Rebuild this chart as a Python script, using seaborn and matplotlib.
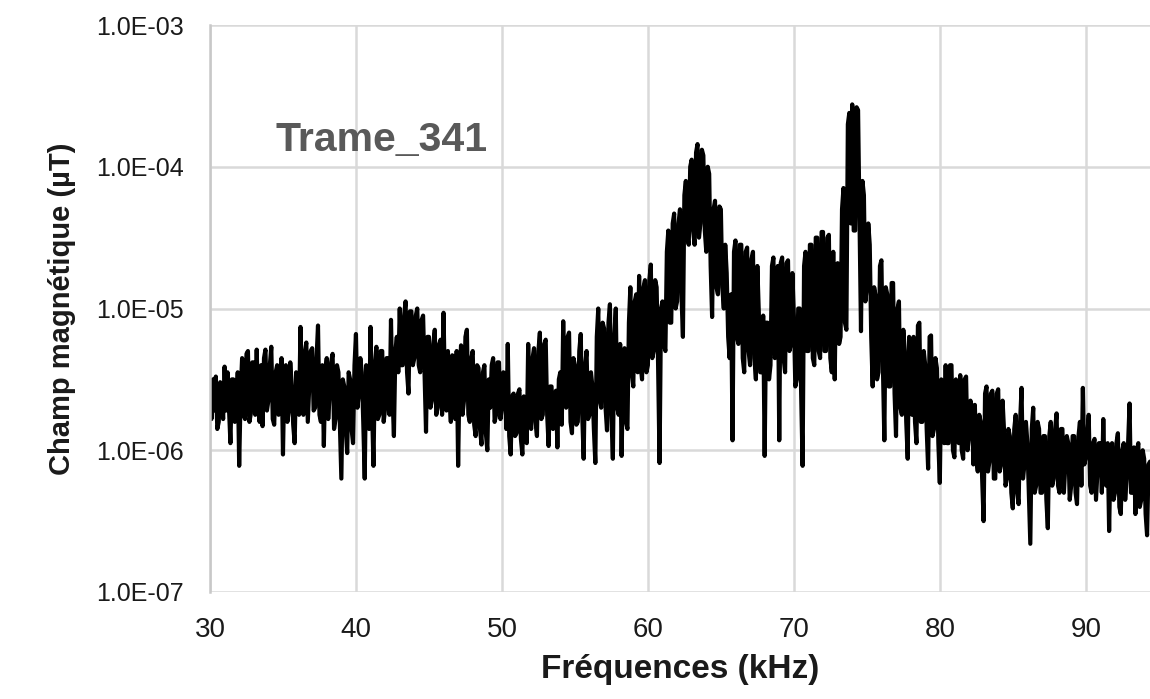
import numpy as np
import pandas as pd
import matplotlib
matplotlib.use("Agg")
import matplotlib.pyplot as plt
import matplotlib.ticker as mticker
import seaborn as sns

# --- Data (frequency step 0.1 kHz, values as log10 of field in uT) ---
FREQ_START = 30.0
FREQ_STEP = 0.1

log_field = [
    -5.55, -5.78, -5.50, -5.72, -5.48, -5.85, -5.80, -5.52, -5.60, -5.78,   # 30
    -5.41, -5.72, -5.45, -5.70, -5.95, -5.50, -5.50, -5.80, -5.75, -5.45,   # 31
    -6.11, -5.60, -5.35, -5.75, -5.78, -5.32, -5.30, -5.80, -5.74, -5.38,   # 32
    -5.38, -5.75, -5.29, -5.70, -5.80, -5.40, -5.83, -5.35, -5.29, -5.72,   # 33
    -5.65, -5.40, -5.27, -5.78, -5.82, -5.45, -5.40, -5.75, -5.62, -5.35,   # 34
    -6.03, -5.45, -5.40, -5.80, -5.72, -5.38, -5.55, -5.82, -5.95, -5.45,   # 35
    -5.50, -5.75, -5.13, -5.70, -5.75, -5.30, -5.24, -5.80, -5.55, -5.30,   # 36
    -5.28, -5.72, -5.70, -5.35, -5.12, -5.75, -5.80, -5.40, -5.97, -5.45,   # 37
    -5.35, -5.78, -5.60, -5.38, -5.32, -5.85, -5.78, -5.40, -5.45, -5.82,   # 38
    -6.20, -5.50, -5.55, -5.85, -6.02, -5.45, -5.50, -5.85, -5.95, -5.40,   # 39
    -5.18, -5.70, -5.60, -5.35, -5.45, -5.80, -6.20, -5.40, -5.50, -5.85,   # 40
    -5.13, -5.70, -6.11, -5.40, -5.27, -5.78, -5.75, -5.30, -5.30, -5.80,   # 41
    -5.70, -5.35, -5.35, -5.75, -5.08, -5.60, -5.90, -5.30, -5.20, -5.45,   # 42
    -5.00, -5.40, -5.40, -5.05, -4.95, -5.45, -5.60, -5.02, -5.02, -5.40,   # 43
    -5.35, -5.05, -5.00, -5.40, -5.45, -5.08, -5.05, -5.45, -5.87, -5.20,   # 44
    -5.20, -5.70, -5.65, -5.25, -5.15, -5.75, -5.70, -5.25, -5.22, -5.75,   # 45
    -5.03, -5.60, -5.72, -5.30, -5.62, -5.80, -5.33, -5.70, -5.78, -5.30,   # 46
    -6.11, -5.45, -5.26, -5.75, -5.65, -5.20, -5.15, -5.75, -5.80, -5.35,   # 47
    -5.30, -5.82, -5.90, -5.40, -5.42, -5.85, -5.96, -5.45, -5.40, -5.88,   # 48
    -6.00, -5.50, -5.70, -5.40, -5.35, -5.80, -5.75, -5.38, -5.38, -5.78,   # 49
    -5.70, -5.45, -5.50, -5.85, -5.25, -5.90, -6.03, -5.62, -5.60, -5.90,   # 50
    -5.88, -5.60, -5.57, -5.92, -6.03, -5.62, -5.63, -5.95, -5.25, -5.70,   # 51
    -5.85, -5.35, -5.28, -5.80, -5.90, -5.30, -5.17, -5.78, -5.75, -5.25,   # 52
    -5.22, -5.75, -5.97, -5.55, -5.55, -5.85, -5.80, -5.58, -5.98, -5.50,   # 53
    -5.45, -5.82, -5.09, -5.65, -5.70, -5.20, -5.17, -5.80, -5.88, -5.35,   # 54
    -5.40, -5.82, -5.80, -5.30, -5.18, -5.75, -6.06, -5.40, -5.30, -5.78,   # 55
    -5.75, -5.45, -5.55, -5.85, -6.09, -5.20, -5.00, -5.65, -5.70, -5.10,   # 56
    -5.14, -5.70, -5.86, -5.10, -4.97, -5.75, -6.06, -5.20, -5.00, -5.70,   # 57
    -5.75, -5.25, -6.04, -5.45, -5.28, -5.80, -5.85, -5.10, -4.85, -5.45,   # 58
    -5.55, -4.95, -4.90, -5.45, -4.77, -5.40, -5.50, -4.85, -4.80, -5.45,   # 59
    -5.40, -4.80, -4.69, -5.35, -5.30, -4.80, -4.85, -5.40, -6.09, -5.00,   # 60
    -4.95, -5.25, -5.30, -4.60, -4.45, -5.10, -5.10, -4.40, -4.33, -5.00,   # 61
    -4.95, -4.40, -4.30, -4.90, -5.20, -4.20, -4.10, -4.50, -4.55, -4.00,   # 62
    -3.95, -4.45, -4.55, -3.90, -3.84, -4.50, -4.40, -3.88, -3.92, -4.45,   # 63
    -4.60, -4.00, -4.05, -4.70, -5.06, -4.30, -4.24, -4.85, -4.90, -4.28,   # 64
    -4.30, -4.85, -5.00, -4.55, -4.75, -5.20, -5.35, -4.90, -5.93, -4.60,   # 65
    -4.52, -5.20, -5.25, -4.55, -4.55, -5.35, -5.45, -4.60, -4.57, -5.30,   # 66
    -5.40, -4.65, -4.60, -5.35, -5.50, -4.70, -5.03, -5.45, -5.45, -5.05,   # 67
    -6.04, -5.10, -5.10, -5.50, -5.40, -4.70, -4.64, -5.35, -5.30, -4.70,   # 68
    -5.93, -4.68, -4.64, -5.35, -5.45, -4.68, -4.66, -5.30, -5.25, -4.75,   # 69
    -5.05, -5.55, -5.50, -5.00, -5.00, -5.60, -6.11, -4.70, -4.60, -5.30,   # 70
    -5.30, -4.55, -4.55, -5.35, -5.40, -4.50, -4.50, -5.30, -5.35, -4.46,   # 71
    -4.46, -5.30, -5.30, -4.50, -4.48, -5.35, -5.45, -4.60, -5.50, -4.70,   # 72
    -4.68, -5.25, -5.20, -4.30, -4.15, -5.10, -5.15, -3.70, -3.62, -4.40,   # 73
    -3.56, -4.45, -4.45, -3.58, -3.60, -4.40, -5.16, -4.10, -4.20, -4.95,   # 74
    -4.85, -4.40, -4.55, -5.20, -5.55, -4.85, -4.91, -5.50, -5.45, -4.70,   # 75
    -4.66, -5.40, -5.93, -4.85, -4.90, -5.55, -5.55, -4.82, -4.82, -5.60,   # 76
    -5.90, -5.00, -4.95, -5.70, -5.75, -5.15, -5.30, -5.80, -6.06, -5.20,   # 77
    -5.45, -5.75, -5.20, -5.80, -5.95, -5.12, -5.10, -5.80, -5.80, -5.30,   # 78
    -5.40, -5.85, -6.13, -5.20, -5.19, -5.90, -5.85, -5.35, -5.42, -5.95,   # 79
    -6.23, -5.50, -5.60, -5.95, -5.40, -5.95, -5.95, -5.40, -5.40, -6.00,   # 80
    -6.05, -5.50, -5.70, -5.95, -5.47, -6.00, -6.06, -5.50, -5.48, -6.00,   # 81
    -5.90, -5.65, -5.70, -6.10, -5.68, -6.05, -6.15, -5.75, -5.80, -6.20,   # 82
    -6.50, -5.60, -5.55, -6.15, -6.08, -5.60, -5.58, -6.20, -6.20, -5.60,   # 83
    -5.57, -6.15, -6.10, -5.65, -5.86, -6.25, -6.20, -5.85, -5.90, -6.30,   # 84
    -6.41, -5.85, -5.75, -6.30, -6.38, -5.80, -5.56, -6.20, -6.10, -5.80,   # 85
    -5.95, -6.30, -6.66, -5.85, -5.70, -6.30, -6.25, -5.80, -5.85, -6.30,   # 86
    -6.30, -5.90, -5.90, -6.35, -6.55, -5.90, -5.80, -6.25, -6.20, -5.85,   # 87
    -5.74, -6.25, -6.30, -5.85, -5.85, -6.30, -6.10, -5.90, -5.95, -6.35,   # 88
    -6.25, -5.90, -5.90, -6.30, -6.38, -5.90, -5.80, -6.25, -5.56, -6.10,   # 89
    -6.05, -5.90, -5.75, -6.25, -6.30, -5.95, -5.92, -6.35, -6.15, -5.95,   # 90
    -5.95, -6.30, -5.78, -6.20, -6.25, -5.95, -6.57, -6.00, -5.95, -6.35,   # 91
    -6.30, -5.95, -5.88, -6.40, -6.45, -6.00, -5.95, -6.35, -6.20, -5.95,   # 92
    -5.67, -6.30, -6.30, -5.98, -6.45, -6.00, -5.95, -6.40, -6.35, -6.00,   # 93
    -6.06, -6.45, -6.60, -6.10, -6.08,                                      # 94
]

x_ticks = [30, 40, 50, 60, 70, 80, 90]
y_ticks = [1e-7, 1e-6, 1e-5, 1e-4, 1e-3]
title_text = "Trame_341"

freqs = FREQ_START + FREQ_STEP * np.arange(len(log_field))
df = pd.DataFrame({"freq": freqs, "field": 10.0 ** np.array(log_field)})

sns.set_theme(style="whitegrid")
plt.rcParams["font.family"] = ["Liberation Sans", "DejaVu Sans"]

fig = plt.figure(figsize=(11.5, 6.99), dpi=100)
ax = fig.add_axes([0.1826, 0.1531, 0.8174, 0.8111])

sns.lineplot(data=df, x="freq", y="field", ax=ax, color="black",
             linewidth=3.0, estimator=None, sort=False)

ax.set_yscale("log")
ax.set_xlim(30, 94.4)
ax.set_ylim(1e-7, 1e-3)
ax.set_xticks(x_ticks)
ax.set_yticks(y_ticks)
ax.yaxis.set_minor_locator(mticker.NullLocator())
ax.yaxis.set_major_formatter(mticker.FuncFormatter(lambda v, p: f"{v:.1E}"))

ax.grid(True, color="#d9d9d9", linewidth=1.8)
for side in ["top", "right", "bottom"]:
    ax.spines[side].set_visible(False)
ax.spines["left"].set_color("#c8c8c8")
ax.spines["left"].set_linewidth(1.8)

ax.tick_params(axis="x", length=0, pad=18, labelsize=20, labelcolor="#1a1a1a")
ax.tick_params(axis="y", length=0, pad=19, labelsize=18, labelcolor="#1a1a1a")

ax.set_xlabel("Fréquences (kHz)", fontsize=24, fontweight="bold",
              color="#1a1a1a", labelpad=8)
ax.set_ylabel("Champ magnétique (µT)", fontsize=21, fontweight="bold",
              color="#1a1a1a", labelpad=14)

ax.text(0.183, 0.797, title_text, transform=ax.transAxes, ha="center",
        va="center", fontsize=29.5, fontweight="bold", color="#595959")

fig.savefig("out.png", dpi=100)
